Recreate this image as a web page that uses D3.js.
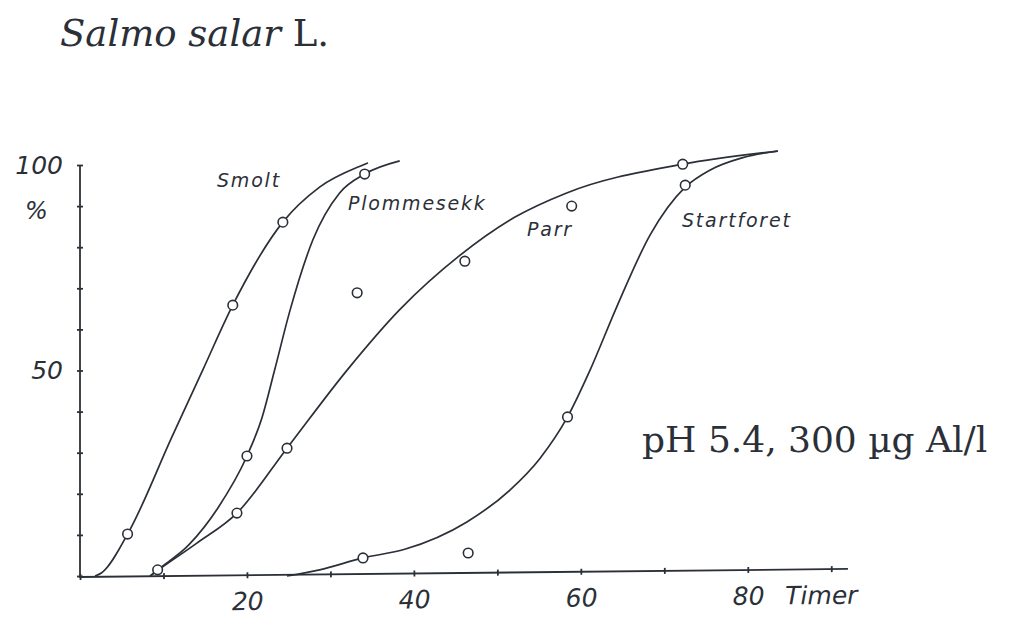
<!DOCTYPE html>
<html>
<head>
<meta charset="utf-8">
<script src="https://cdn.jsdelivr.net/npm/d3@7"></script>
<style>
   body { margin: 0; background: #fff; }
   svg { display: block; }
</style>
</head>
<body>
<div id="chart"></div>
<script>

// AXIS TICKS & LABELS
var xTicks = [0, 10, 20, 30, 40, 50, 60, 70, 80, 90];
var xLabels = [20, 40, 60, 80];
var yTicks = [0, 10, 20, 30, 40, 50, 60, 70, 80, 90, 100];
var yLabels = [50, 100];

// SERIES NAMES
var series = ['Smolt', 'Plommesekk', 'Parr', 'Startforet'];

// DRAWN CURVES -- [TIMER, %]
var smoltLine = [[1.8, 0], [2.6, 0.8], [5.7, 10.2], [11.0, 33.8], [14.7, 50.1], [18.3, 65.9], [24.3, 86.1], [28.7, 94.6], [33.9, 100], [34.5, 100.5]];
var plommeLine = [[8.4, 0], [9.3, 1.5], [13.0, 7.5], [16.5, 16.5], [20.0, 29.2], [21.8, 38.5], [23.3, 50.0], [25.1, 64.2], [27.9, 81.8], [31.1, 93.2], [34.1, 97.8], [38.3, 101]];
var parrLine = [[8.4, 0], [9.2, 1.2], [14.0, 8.0], [18.8, 15.3], [24.8, 31.1], [32.0, 50.1], [38.3, 64.8], [45.5, 78.0], [52.0, 87.2], [58.3, 93.2], [72.2, 100.2], [83.6, 103.4]];
var startLine = [[24.8, 0], [28.7, 1.5], [33.9, 4.4], [38.9, 6.5], [46.3, 13.1], [51.5, 20.9], [55.1, 28.6], [58.4, 38.7], [61.1, 50.1], [64.3, 65.5], [68.3, 83.0], [72.5, 94.6], [75.5, 98.8], [79.4, 101.8], [83.6, 103.4]];

// OBSERVED POINTS -- [TIMER, %]
var smoltObs = [[5.7, 10.2], [18.3, 65.9], [24.3, 86.1]];
var plommeObs = [[9.3, 1.5], [20.0, 29.2], [34.1, 97.8]];
var parrObs = [[18.8, 15.3], [24.8, 31.1], [33.2, 68.9], [46.1, 76.6], [58.9, 90.0], [72.2, 100.2]];
var startObs = [[33.9, 4.4], [46.5, 5.6], [58.4, 38.7], [72.5, 95.1]];

// SETTINGS
var settings = {
   width: 1027,
   height: 620,
   ink: '#2b3038',
   sans: '"DejaVu Sans", sans-serif',
   serif: '"DejaVu Serif", serif'
};

// SERIES -> LINE, POINTS & LABEL SPOT
var lines = [smoltLine, plommeLine, parrLine, startLine];
var points = [smoltObs, plommeObs, parrObs, startObs];
var labelSpots = [[217, 187], [348, 210], [527, 236], [682, 227]];

// CANVAS
var canvas = d3.select('#chart').append('svg')
   .attr('width', settings.width)
   .attr('height', settings.height)

// X-SCALING
var xScale = d3.scaleLinear()
   .domain([0, 92])
   .range([80, 848])

// Y-SCALING
var yScale = d3.scaleLinear()
   .domain([0, 100])
   .range([576, 165])

// TITLE
var title = canvas.append('text')
   .attr('x', 60)
   .attr('y', 46)
   .attr('font-family', settings.serif)
   .attr('font-size', 37)
   .attr('fill', settings.ink)

title.append('tspan').attr('font-style', 'italic').text('Salmo salar')
title.append('tspan').text(' L.')

// CONDITIONS NOTE
canvas.append('text')
   .attr('x', 642)
   .attr('y', 452)
   .attr('font-family', settings.serif)
   .attr('font-size', 36)
   .attr('fill', settings.ink)
   .text('pH 5.4, 300 µg Al/l')

// Y-AXIS -- TICK MARKS
var yAxis = canvas.append('g')
   .attr('transform', 'translate(' + xScale(0) + ',0)')
   .call(d3.axisLeft(yScale).tickValues(yTicks).tickSize(3).tickFormat(''))

yAxis.selectAll('.tick line').attr('x2', 3).attr('x1', -3)
yAxis.select('.domain').attr('d', 'M0,' + yScale(100) + 'V' + (yScale(0) + 2))

// Y-AXIS -- LABELS
var yLabelAxis = canvas.append('g')
   .attr('transform', 'translate(' + (xScale(0) - 17) + ',0)')
   .call(d3.axisLeft(yScale).tickValues(yLabels).tickSize(0).tickPadding(0))

yLabelAxis.select('.domain').remove()

// PERCENT SIGN
canvas.append('text')
   .attr('x', 25)
   .attr('y', 219)
   .attr('font-family', settings.sans)
   .attr('font-style', 'italic')
   .attr('font-weight', 200)
   .attr('font-size', 24)
   .attr('fill', settings.ink)
   .text('%')

// X-AXIS (SLIGHTLY TILTED LIKE THE SCAN)
var xGroup = canvas.append('g')
   .attr('transform', 'translate(0,' + (yScale(0) + 1) + ') rotate(-0.6,' + xScale(0) + ',0)')

var xAxis = xGroup.append('g')
   .call(d3.axisBottom(xScale).tickValues(xTicks).tickSize(3).tickFormat(''))

xAxis.selectAll('.tick line').attr('y1', -3).attr('y2', 3)
xAxis.select('.domain').attr('d', 'M' + xScale(0) + ',0H' + xScale(92))

var xLabelAxis = xGroup.append('g')
   .call(d3.axisBottom(xScale).tickValues(xLabels).tickSize(0).tickPadding(17))

xLabelAxis.select('.domain').remove()

// UNIT AFTER LAST LABEL
xGroup.append('text')
   .attr('x', 785)
   .attr('y', 17)
   .attr('dy', '0.71em')
   .attr('font-family', settings.sans)
   .attr('font-style', 'italic')
   .attr('font-weight', 200)
   .attr('font-size', 25)
   .attr('fill', settings.ink)
   .text('Timer')

// AXIS STYLE
canvas.selectAll('.domain, .tick line')
   .attr('stroke', settings.ink)
   .attr('stroke-width', 1.8)

canvas.selectAll('.tick text')
   .attr('font-family', settings.sans)
   .attr('font-style', 'italic')
   .attr('font-weight', 200)
   .attr('font-size', 25)
   .attr('fill', settings.ink)

// LINE GENERATOR
var pathify = d3.line()
   .x((d) => { return xScale(d[0]) })
   .y((d) => { return yScale(d[1]) })
   .curve(d3.curveMonotoneX)

// LOOP THROUGH SERIES & DRAW
series.forEach((name, i) => {

   // ADD CURVE
   canvas.append('path')
      .attr('d', pathify(lines[i]))
      .attr('fill', 'none')
      .attr('stroke', settings.ink)
      .attr('stroke-width', 1.7)

   // ADD LABEL
   canvas.append('text')
      .attr('x', labelSpots[i][0])
      .attr('y', labelSpots[i][1])
      .attr('font-family', settings.sans)
      .attr('font-style', 'italic')
      .attr('font-size', 19)
      .attr('letter-spacing', 1.8)
      .attr('fill', settings.ink)
      .text(name)
});

// ADD CIRCLES ON TOP
series.forEach((name, i) => {
   canvas.selectAll('circle.group-' + i)
      .data(points[i])
         .enter().append('circle')
            .attr('class', 'group-' + i)
            .attr('cx', (d) => { return xScale(d[0]) })
            .attr('cy', (d) => { return yScale(d[1]) })
            .attr('r', 4.8)
            .attr('fill', '#fff')
            .attr('stroke', settings.ink)
            .attr('stroke-width', 1.6)
});

</script>
</body>
</html>
